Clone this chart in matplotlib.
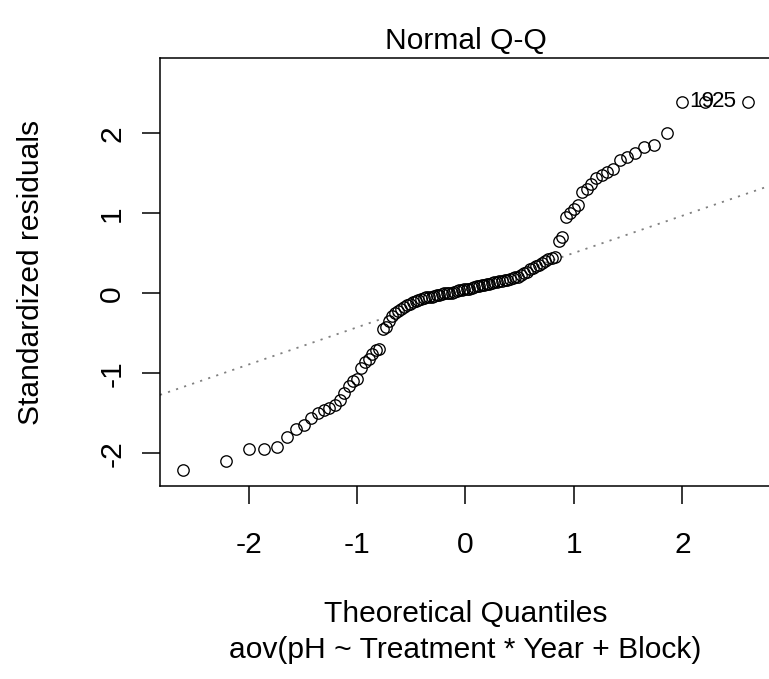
import numpy as np
import matplotlib
matplotlib.use("Agg")
import matplotlib.pyplot as plt
from statistics import NormalDist

plt.rcParams['font.family'] = ['Liberation Sans', 'DejaVu Sans']

# Sorted standardized residuals (n = 110)
std_resid = [
    -2.21, -2.10, -1.95, -1.94, -1.92, -1.79, -1.70, -1.64, -1.56, -1.49,
    -1.46, -1.43, -1.39, -1.33, -1.25, -1.16, -1.10, -1.07, -0.93, -0.86,
    -0.82, -0.76, -0.71, -0.69, -0.44, -0.42, -0.35, -0.28, -0.25, -0.22,
    -0.19, -0.17, -0.15, -0.13, -0.11, -0.10, -0.08, -0.07, -0.06, -0.05,
    -0.04, -0.04, -0.03, -0.02, -0.02, -0.01, 0.00, 0.00, 0.01, 0.01,
    0.02, 0.03, 0.04, 0.04, 0.05, 0.06, 0.06, 0.07, 0.08, 0.09,
    0.09, 0.10, 0.11, 0.12, 0.12, 0.13, 0.14, 0.14, 0.15, 0.16,
    0.17, 0.17, 0.18, 0.19, 0.20, 0.21, 0.23, 0.25, 0.27, 0.30,
    0.32, 0.34, 0.36, 0.38, 0.41, 0.43, 0.44, 0.46, 0.66, 0.70,
    0.96, 1.01, 1.06, 1.10, 1.27, 1.31, 1.37, 1.44, 1.48, 1.52,
    1.56, 1.67, 1.70, 1.76, 1.83, 1.86, 2.00, 2.40, 2.40, 2.40,
]
# Labelled extreme points (1-based rank in sorted order) and their ids
label_ranks = [108, 109]
label_texts = ["19", "25"]

title = "Normal Q-Q"
xlabel = "Theoretical Quantiles"
ylabel = "Standardized residuals"
subtitle = "aov(pH ~ Treatment * Year + Block)"
xticks = [-2, -1, 0, 1, 2]
yticks = [-2, -1, 0, 1, 2]

# Theoretical quantiles as in qqnorm (ppoints)
n = len(std_resid)
nd = NormalDist()
theo = np.array([nd.inv_cdf((i + 0.5) / n) for i in range(n)])
y = np.array(std_resid)

# qqline through the quartiles (type 7)
yq = np.quantile(y, [0.25, 0.75])
xq = np.array([nd.inv_cdf(0.25), nd.inv_cdf(0.75)])
slope = (yq[1] - yq[0]) / (xq[1] - xq[0])
intercept = yq[0] - slope * xq[0]

W, H = 769, 679
fig = plt.figure(figsize=(W / 100, H / 100), dpi=100)
ax = fig.add_axes([160 / W, (H - 486) / H, 611 / W, 428 / H])

FS = 21.6
ax.plot(theo, y, linestyle='none', marker='o', markersize=8.2,
        markerfacecolor='none', markeredgecolor='black', markeredgewidth=0.95,
        zorder=3)
ax.axline((0, intercept), slope=slope, color='#808080', linewidth=1.3,
          linestyle=(0, (1.2, 3.5)), zorder=2)

for r, t in zip(label_ranks, label_texts):
    ax.annotate(t, (theo[r - 1], y[r - 1]), xytext=(5, 0),
                textcoords='offset points', ha='left', va='center',
                fontsize=FS * 0.75, zorder=4)

# R-style limits
xr = [theo.min(), theo.max()]
xd = xr[1] - xr[0]
ax.set_xlim(xr[0] - 0.04 * xd, xr[1] + 0.04 * xd)
yr = [y.min(), y.max()]
yr[1] = yr[1] + 0.075 * (yr[1] - yr[0])
yd = yr[1] - yr[0]
ax.set_ylim(yr[0] - 0.04 * yd, yr[1] + 0.04 * yd)

ax.set_xticks(xticks)
ax.set_xticklabels([str(v) for v in xticks])
ax.set_yticks(yticks)
ax.set_yticklabels([str(v) for v in yticks], rotation=90, va='center')
ax.tick_params(axis='both', direction='out', length=13.3, width=1.1,
               labelsize=FS, colors='black')
ax.tick_params(axis='x', pad=19)
ax.tick_params(axis='y', pad=11)
for s in ax.spines.values():
    s.set_linewidth(1.1)

cx = (160 + 771) / 2 / W
fig.text(cx, 1 - 49 / H, title, ha='center', va='baseline', fontsize=FS)
fig.text(cx, 1 - 614 / H, xlabel, ha='center', va='center', fontsize=FS)
fig.text(cx, 1 - 650 / H, subtitle, ha='center', va='center', fontsize=FS)
fig.text(31 / W, 1 - 272 / H, ylabel, ha='center', va='center',
         rotation=90, fontsize=FS)

fig.savefig("out.png", dpi=100)
